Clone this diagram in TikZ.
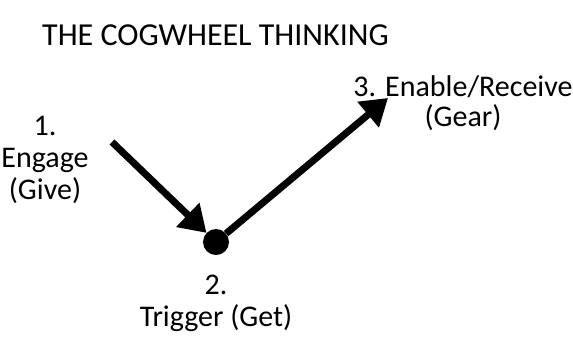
\documentclass[tikz,border=0pt]{standalone}
\usepackage{fontspec}
\setmainfont{Carlito}
\usetikzlibrary{arrows.meta, positioning}

\begin{document}
\begin{tikzpicture}[x=1pt, y=-1pt, line join=round]
    \tikzset{
      lbl/.style={font=\fontsize{30}{32}\selectfont, align=center, inner sep=0pt},
      bigarrow/.style={line width=7pt, -{Triangle[length=26pt,width=32pt]}}
    }
    \useasboundingbox (0,0) rectangle (573,341);
    \node[lbl, font=\fontsize{32}{32}\selectfont, anchor=base west] (title) at (42,45) {THE COGWHEEL THINKING};
    \node[lbl] (engage) at (45,160) {1.\\Engage\\(Give)};
    \node[circle, fill, minimum size=26pt, inner sep=0pt] (trigger) at (216,242) {};
    \node[lbl, below=20pt of trigger] (triggerlbl) {2.\\Trigger (Get)};
    \node[lbl, font=\fontsize{30}{30}\selectfont] (enable) at (463,103) {3. Enable/Receive\\(Gear)};
    \coordinate (start) at (112,142);
    \coordinate (finish) at (388,98);
    \draw[bigarrow] (start) -- (trigger);
    \draw[bigarrow] (trigger) -- (finish);
\end{tikzpicture}
\end{document}
